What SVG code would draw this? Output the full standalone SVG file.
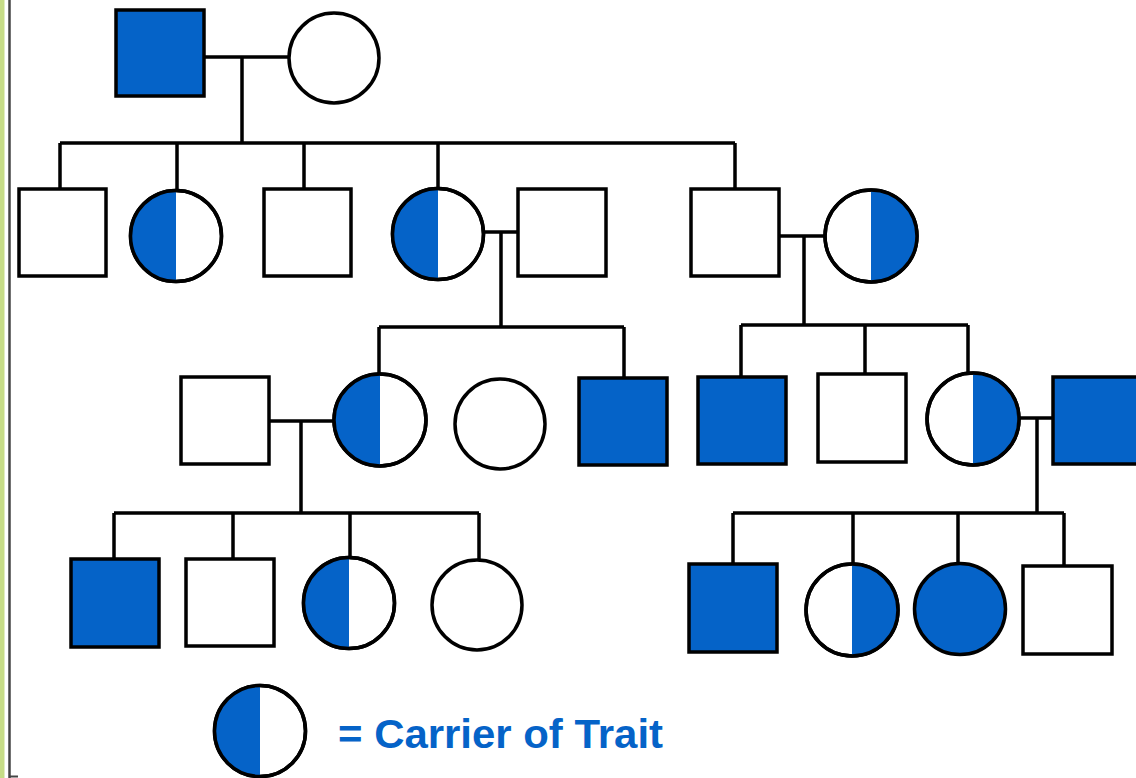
<svg xmlns="http://www.w3.org/2000/svg" width="1136" height="778" viewBox="0 0 1136 778">
<style>
.m{stroke:#000;stroke-width:3.5;fill:#fff}
.a{stroke:#000;stroke-width:3.5;fill:#0563c8}
.h{fill:#0563c8;stroke:none}
.o{fill:none;stroke:#000;stroke-width:3.5}
.c{fill:none;stroke:#000;stroke-width:3.5}
.t{font-family:"Liberation Sans",Arial,sans-serif;font-weight:bold;font-size:40px;fill:#0563c8}
</style>
<rect width="1136" height="778" fill="#fff"/>
<rect x="0" y="0" width="4.5" height="778" fill="#c6dc86"/>
<line x1="9.5" y1="0" x2="9.5" y2="778" stroke="#444" stroke-width="2.5"/>
<line x1="9" y1="776.5" x2="18" y2="776.5" stroke="#444" stroke-width="2"/>

<g id="connectors" class="c">
<path d="M204 57H289M242 57V143M60 143H735M60 143V189M177 143V191M304 143V189M438 143V189M735 143V189"/>
<path d="M483 232H518M501 232V327M379 327H624M379 327V374M624 327V378"/>
<path d="M779 236H825M804 236V325M741 325H968M741 325V377M865 325V374M968 325V373"/>
<path d="M268 421H333M301 421V513M114 513H479M114 513V559M233 513V559M350 513V558M479 513V560"/>
<path d="M1019 418H1053M1037 418V513M733 513H1064M733 513V563M853 513V564M958 513V563M1064 513V565"/>
</g>

<g id="g1-father"><rect class="a" x="116" y="10" width="88" height="86"/></g>
<g id="g1-mother"><circle class="m" cx="334" cy="58" r="45"/></g>

<g id="g2-son1"><rect class="m" x="19" y="189" width="87" height="87"/></g>
<g id="g2-dau1"><circle class="m" cx="176" cy="236" r="45.5"/><path class="h" d="M176 190.5A45.5 45.5 0 0 0 176 281.5Z"/><circle class="o" cx="176" cy="236" r="45.5"/></g>
<g id="g2-son2"><rect class="m" x="264" y="189" width="87" height="87"/></g>
<g id="g2-dau2"><circle class="m" cx="438" cy="234" r="45.5"/><path class="h" d="M438 188.5A45.5 45.5 0 0 0 438 279.5Z"/><circle class="o" cx="438" cy="234" r="45.5"/></g>
<g id="g2-dau2-husband"><rect class="m" x="518" y="189" width="88" height="87"/></g>
<g id="g2-son3"><rect class="m" x="691" y="189" width="88" height="87"/></g>
<g id="g2-son3-wife"><circle class="m" cx="871" cy="236" r="46"/><path class="h" d="M871 190A46 46 0 0 1 871 282Z"/><circle class="o" cx="871" cy="236" r="46"/></g>

<g id="g3-husband"><rect class="m" x="181" y="377" width="88" height="87"/></g>
<g id="g3-dau1"><circle class="m" cx="380" cy="420" r="46"/><path class="h" d="M380 374A46 46 0 0 0 380 466Z"/><circle class="o" cx="380" cy="420" r="46"/></g>
<g id="g3-dau2"><circle class="m" cx="500" cy="424" r="45"/></g>
<g id="g3-son1"><rect class="a" x="579" y="378" width="88" height="87"/></g>
<g id="g3-son2"><rect class="a" x="698" y="377" width="88" height="87"/></g>
<g id="g3-son3"><rect class="m" x="818" y="374" width="88" height="88"/></g>
<g id="g3-dau3"><circle class="m" cx="973" cy="419" r="46"/><path class="h" d="M973 373A46 46 0 0 1 973 465Z"/><circle class="o" cx="973" cy="419" r="46"/></g>
<g id="g3-dau3-husband"><rect class="a" x="1053" y="377" width="90" height="87"/></g>

<g id="g4-son1"><rect class="a" x="71" y="559" width="88" height="88"/></g>
<g id="g4-son2"><rect class="m" x="186" y="559" width="88" height="87"/></g>
<g id="g4-dau1"><circle class="m" cx="349" cy="603" r="45.5"/><path class="h" d="M349 557.5A45.5 45.5 0 0 0 349 648.5Z"/><circle class="o" cx="349" cy="603" r="45.5"/></g>
<g id="g4-dau2"><circle class="m" cx="477" cy="605" r="45"/></g>
<g id="g4-son3"><rect class="a" x="689" y="564" width="88" height="88"/></g>
<g id="g4-dau3"><circle class="m" cx="852" cy="610" r="46"/><path class="h" d="M852 564A46 46 0 0 1 852 656Z"/><circle class="o" cx="852" cy="610" r="46"/></g>
<g id="g4-dau4"><circle class="a" cx="960" cy="609" r="45.5"/></g>
<g id="g4-son4"><rect class="m" x="1023" y="566" width="89" height="88"/></g>

<g id="legend">
<circle class="m" cx="260" cy="731" r="45.5"/><path class="h" d="M260 685.5A45.5 45.5 0 0 0 260 776.5Z"/><circle class="o" cx="260" cy="731" r="45.5"/>
<text class="t" x="338" y="748" textLength="325" lengthAdjust="spacingAndGlyphs">= Carrier of Trait</text>
</g>
</svg>
